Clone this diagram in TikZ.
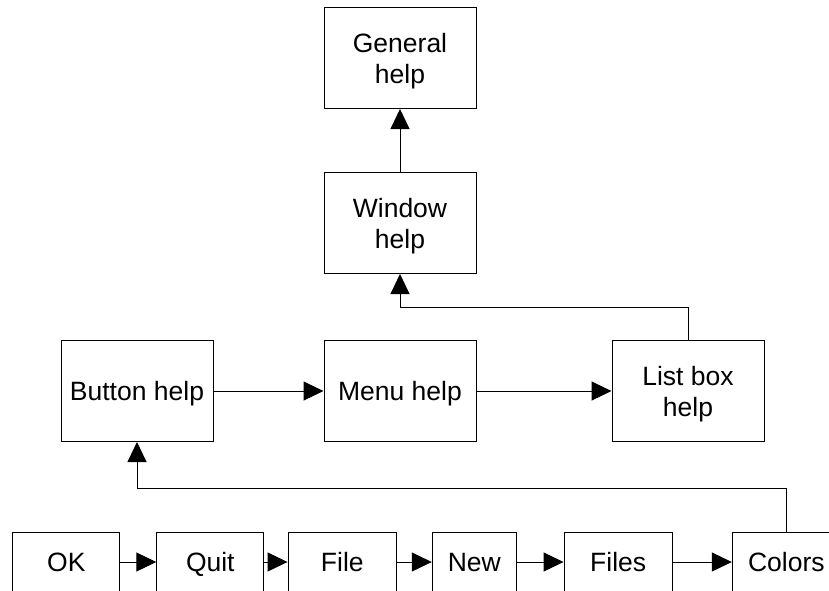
\documentclass[tikz,border=0pt]{standalone}
\usepackage{fontspec}
\setmainfont{Liberation Sans}
\usetikzlibrary{arrows.meta,calc}
\begin{document}
\begin{tikzpicture}[x=1pt,y=-1pt,
  base/.style={draw=black, line width=1pt, inner sep=0pt, align=center,
    font=\fontsize{26.5}{31}\selectfont, text depth=0pt},
  box/.style={base, minimum width=152pt, minimum height=101pt},
  one/.style={text height=19pt},
  sbox/.style={base, one, minimum height=60pt},
  arr/.style={line width=1pt, -{Triangle[length=20pt,width=19pt]}}]
\useasboundingbox (0,0) rectangle (829,590);
\node[box] (gen) at (400,58) {General\\help};
\node[box] (win) at (400,223) {Window\\help};
\node[box, one] (btn) at (137,391) {Button help};
\node[box, one] (menu) at (400,391) {Menu help};
\node[box] (list) at (688,391) {List box\\help};
\node[sbox, minimum width=107pt] (ok) at (66.3,562) {OK};
\node[sbox, minimum width=107pt] (quit) at (210.3,562) {Quit};
\node[sbox, minimum width=108.5pt] (file) at (342.3,562) {File};
\node[sbox, minimum width=84pt] (new) at (474.3,562) {New};
\node[sbox, minimum width=108.3pt] (files) at (618.2,562) {Files};
\node[sbox, minimum width=108pt] (colors) at (786.3,562) {Colors};
\draw[arr] (win.north) -- (gen.south);
\draw[arr] (btn.east) -- (menu.west);
\draw[arr] (menu.east) -- (list.west);
\draw[arr] (list.north) |- ($(win.south)+(0,33)$) -- (win.south);
\draw[arr] (colors.north) |- ($(btn.south)+(0,46)$) -- (btn.south);
\draw[arr] (ok.east) -- (quit.west);
\draw[arr] (quit.east) -- (file.west);
\draw[arr] (file.east) -- (new.west);
\draw[arr] (new.east) -- (files.west);
\draw[arr] (files.east) -- (colors.west);
\end{tikzpicture}
\end{document}
